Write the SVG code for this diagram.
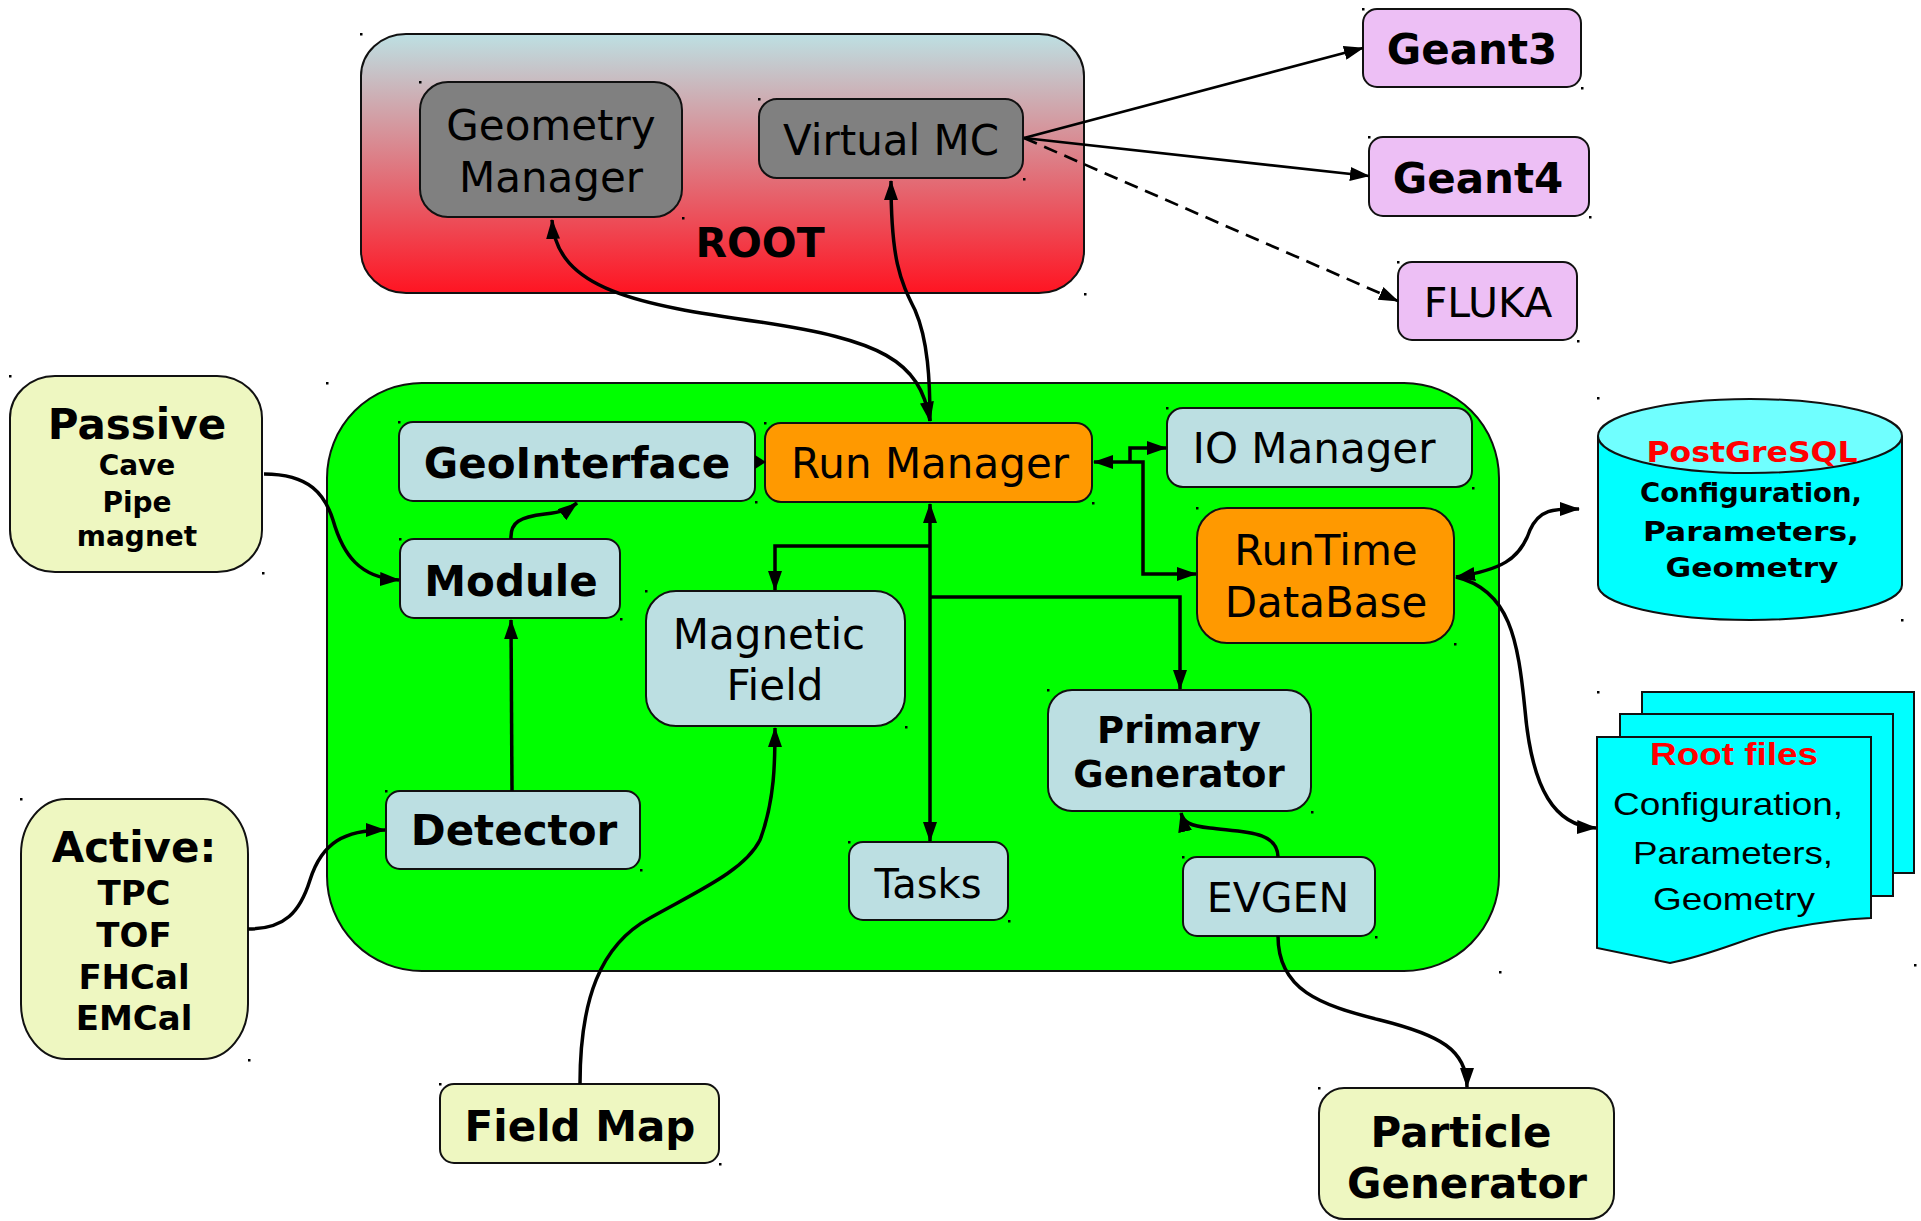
<svg xmlns="http://www.w3.org/2000/svg" width="1921" height="1221" viewBox="0 0 1921 1221">
<style>
  .box { stroke: #111; stroke-width: 2; }
  .blue { fill: #bcdfe2; }
  .gray { fill: #808080; }
  .orange { fill: #ff9900; }
  .pink { fill: #edbff5; }
  .yellow { fill: #eef7c1; }
  .cyan { fill: #00ffff; }
  .t { font-family: "DejaVu Sans", "Liberation Sans", sans-serif; fill: #000; text-anchor: middle; }
  .b { font-weight: bold; }
  .lib { font-family: "Liberation Sans", Arial, sans-serif; }
  .red { fill: #ff0000; }
  .con { fill: none; stroke: #000; stroke-width: 3.5; }
  .thin { fill: none; stroke: #000; stroke-width: 2.7; }
  .dash { stroke-dasharray: 14 8; }
  .dot { fill: #000; }
</style>
<defs>
  <linearGradient id="rootGrad" x1="0" y1="0" x2="0" y2="1">
    <stop offset="0" stop-color="#bde0e3"/>
    <stop offset="1" stop-color="#ff1422"/>
  </linearGradient>
  <marker id="ah" viewBox="0 0 20 14" refX="19" refY="7" markerWidth="20" markerHeight="14" markerUnits="userSpaceOnUse" orient="auto-start-reverse">
    <path d="M0,0 L20,7 L0,14 z" fill="#000"/>
  </marker>
</defs>

<!-- containers -->
<g id="root">
  <rect class="box" x="361" y="34" width="723" height="259" rx="45" ry="42" fill="url(#rootGrad)"/>
  <text class="t b" x="760" y="257" font-size="41">ROOT</text>
</g>
<g id="framework">
  <rect class="box" x="327" y="383" width="1172" height="588" rx="95" ry="95" fill="#00ff00"/>
</g>

<!-- ROOT children -->
<g id="geometry-manager">
  <rect class="box gray" x="420" y="82" width="262" height="135" rx="28"/>
  <text class="t" x="551" y="140" font-size="42">Geometry</text>
  <text class="t" x="551" y="192" font-size="42">Manager</text>
</g>
<g id="virtual-mc">
  <rect class="box gray" x="759" y="99" width="264" height="79" rx="18"/>
  <text class="t" x="891" y="155" font-size="42">Virtual MC</text>
</g>

<!-- transport engines -->
<g id="geant3">
  <rect class="box pink" x="1363" y="9" width="218" height="78" rx="14"/>
  <text class="t b" x="1472" y="64" font-size="42">Geant3</text>
</g>
<g id="geant4">
  <rect class="box pink" x="1369" y="137" width="220" height="79" rx="14"/>
  <text class="t b" x="1478" y="193" font-size="42">Geant4</text>
</g>
<g id="fluka">
  <rect class="box pink" x="1398" y="262" width="179" height="78" rx="14"/>
  <text class="t" x="1488" y="317" font-size="41">FLUKA</text>
</g>

<!-- external inputs -->
<g id="passive">
  <rect class="box yellow" x="10" y="376" width="252" height="196" rx="45" ry="42"/>
  <text class="t b" x="137" y="439" font-size="42">Passive</text>
  <text class="t b" x="137" y="475" font-size="28">Cave</text>
  <text class="t b" x="137" y="512" font-size="28">Pipe</text>
  <text class="t b" x="137" y="546" font-size="28">magnet</text>
</g>
<g id="active">
  <rect class="box yellow" x="21" y="799" width="227" height="260" rx="45" ry="55"/>
  <text class="t b" x="134" y="862" font-size="42">Active:</text>
  <text class="t b" x="134" y="905" font-size="34">TPC</text>
  <text class="t b" x="134" y="947" font-size="34">TOF</text>
  <text class="t b" x="134" y="989" font-size="34">FHCal</text>
  <text class="t b" x="134" y="1030" font-size="34">EMCal</text>
</g>
<g id="field-map">
  <rect class="box yellow" x="440" y="1084" width="279" height="79" rx="14"/>
  <text class="t b" x="580" y="1141" font-size="42">Field Map</text>
</g>
<g id="particle-generator">
  <rect class="box yellow" x="1319" y="1088" width="295" height="131" rx="25"/>
  <text class="t b" x="1461" y="1147" font-size="42">Particle</text>
  <text class="t b" x="1467" y="1198" font-size="42">Generator</text>
</g>

<!-- framework children -->
<g id="geointerface">
  <rect class="box blue" x="399" y="422" width="356" height="79" rx="14"/>
  <text class="t b" x="577" y="478" font-size="42">GeoInterface</text>
</g>
<g id="run-manager">
  <rect class="box orange" x="765" y="423" width="327" height="79" rx="16"/>
  <text class="t" x="930" y="478" font-size="42">Run Manager</text>
</g>
<g id="io-manager">
  <rect class="box blue" x="1167" y="408" width="305" height="79" rx="16"/>
  <text class="t" x="1314" y="463" font-size="42">IO Manager</text>
</g>
<g id="runtime-database">
  <rect class="box orange" x="1197" y="508" width="257" height="135" rx="30"/>
  <text class="t" x="1326" y="565" font-size="42">RunTime</text>
  <text class="t" x="1326" y="617" font-size="42">DataBase</text>
</g>
<g id="module">
  <rect class="box blue" x="400" y="539" width="220" height="79" rx="14"/>
  <text class="t b" x="511" y="596" font-size="42">Module</text>
</g>
<g id="magnetic-field">
  <rect class="box blue" x="646" y="591" width="259" height="135" rx="30"/>
  <text class="t" x="769" y="649" font-size="42">Magnetic</text>
  <text class="t" x="775" y="700" font-size="42">Field</text>
</g>
<g id="detector">
  <rect class="box blue" x="386" y="791" width="254" height="78" rx="14"/>
  <text class="t b" x="514" y="845" font-size="42">Detector</text>
</g>
<g id="tasks">
  <rect class="box blue" x="849" y="842" width="159" height="78" rx="14"/>
  <text class="t" x="928" y="898" font-size="40">Tasks</text>
</g>
<g id="primary-generator">
  <rect class="box blue" x="1048" y="690" width="263" height="121" rx="24"/>
  <text class="t b" x="1179" y="743" font-size="37">Primary</text>
  <text class="t b" x="1179" y="787" font-size="37">Generator</text>
</g>
<g id="evgen">
  <rect class="box blue" x="1183" y="857" width="192" height="79" rx="14"/>
  <text class="t" x="1278" y="912" font-size="41">EVGEN</text>
</g>

<!-- storage -->
<g id="postgresql">
  <path class="box cyan" d="M1598,436 L1598,585 A152,35 0 0 0 1902,585 L1902,436"/>
  <ellipse class="box" cx="1750" cy="436" rx="152" ry="37" fill="#70ffff"/>
  <text class="t b red" x="1752" y="462" font-size="28" textLength="211" lengthAdjust="spacingAndGlyphs">PostGreSQL</text>
  <text class="t b" x="1751" y="502" font-size="27" textLength="222" lengthAdjust="spacingAndGlyphs">Configuration,</text>
  <text class="t b" x="1751" y="541" font-size="27" textLength="216" lengthAdjust="spacingAndGlyphs">Parameters,</text>
  <text class="t b" x="1752" y="577" font-size="27" textLength="173" lengthAdjust="spacingAndGlyphs">Geometry</text>
</g>
<g id="root-files">
  <rect class="box cyan" x="1642" y="692" width="272" height="181"/>
  <rect class="box cyan" x="1620" y="714" width="273" height="182"/>
  <path class="box cyan" d="M1597,737 L1871,737 L1871,918 C1850,919 1820,922 1790,928 C1750,935 1720,953 1670,963 L1597,948 z"/>
  <text class="t lib b red" x="1734" y="765" font-size="32" textLength="168" lengthAdjust="spacingAndGlyphs">Root files</text>
  <text class="t lib" x="1728" y="815" font-size="32" textLength="230" lengthAdjust="spacingAndGlyphs">Configuration,</text>
  <text class="t lib" x="1733" y="864" font-size="32" textLength="200" lengthAdjust="spacingAndGlyphs">Parameters,</text>
  <text class="t lib" x="1734" y="910" font-size="32" textLength="162" lengthAdjust="spacingAndGlyphs">Geometry</text>
</g>

<!-- connectors -->
<g id="connectors">
  <path class="thin" d="M1024,138 L1363,48" marker-end="url(#ah)"/>
  <path class="thin" d="M1024,138 L1369,176" marker-end="url(#ah)"/>
  <path class="thin dash" d="M1024,138 L1398,301" marker-end="url(#ah)"/>

  <path class="con" d="M552,220 C556,290 640,305 760,322 C880,340 920,360 930,421" marker-start="url(#ah)" marker-end="url(#ah)"/>
  <path class="con" d="M891,181 C891,260 900,280 915,310 C928,340 930,380 930,421" marker-start="url(#ah)"/>

  <path d="M755,455 L766,462 L755,469 z" fill="#000"/>

  <path class="con" d="M511,539 C510,522 520,517 545,514 C562,512 568,510 577,503" marker-end="url(#ah)"/>
  <path class="con" d="M264,474 C310,474 325,495 333,520 C343,555 360,578 399,580" marker-end="url(#ah)"/>
  <path class="con" d="M512,791 L511,620" marker-end="url(#ah)"/>
  <path class="con" d="M248,929 C285,929 300,912 310,880 C322,842 345,830 385,830" marker-end="url(#ah)"/>
  <path class="con" d="M580,1084 C580,1000 600,945 650,918 C700,890 745,870 760,840 C775,800 775,760 775,728" marker-end="url(#ah)"/>

  <path class="con" d="M930,504 L930,841" marker-start="url(#ah)" marker-end="url(#ah)"/>
  <path class="con" d="M930,546 H775 V590" marker-end="url(#ah)"/>
  <path class="con" d="M930,597 H1180 V689" marker-end="url(#ah)"/>

  <path class="con" d="M1094,462 H1143 V574 H1196" marker-start="url(#ah)" marker-end="url(#ah)"/>
  <path class="con" d="M1130,462 V448 H1166" marker-end="url(#ah)"/>

  <path class="con" d="M1456,577 C1500,570 1520,560 1530,530 C1540,508 1555,509 1579,509" marker-start="url(#ah)" marker-end="url(#ah)"/>
  <path class="con" d="M1456,577 C1510,590 1518,640 1525,710 C1532,790 1555,826 1596,828" marker-end="url(#ah)"/>

  <path class="con" d="M1278,857 C1278,830 1240,832 1210,828 C1190,826 1183,822 1181,813" marker-end="url(#ah)"/>
  <path class="con" d="M1278,936 C1278,990 1320,1005 1380,1020 C1440,1035 1467,1050 1467,1087" marker-end="url(#ah)"/>
</g>

<!-- bounding-box corner marks -->
<g id="corner-marks" class="dot">
  <rect x="360" y="33" width="2.5" height="2.5"/><rect x="1084" y="293" width="2.5" height="2.5"/>
  <rect x="419" y="81" width="2.5" height="2.5"/><rect x="682" y="217" width="2.5" height="2.5"/>
  <rect x="758" y="98" width="2.5" height="2.5"/><rect x="1023" y="178" width="2.5" height="2.5"/>
  <rect x="1362" y="8" width="2.5" height="2.5"/><rect x="1581" y="87" width="2.5" height="2.5"/>
  <rect x="1368" y="136" width="2.5" height="2.5"/><rect x="1589" y="216" width="2.5" height="2.5"/>
  <rect x="1397" y="261" width="2.5" height="2.5"/><rect x="1577" y="340" width="2.5" height="2.5"/>
  <rect x="9" y="375" width="2.5" height="2.5"/><rect x="262" y="572" width="2.5" height="2.5"/>
  <rect x="326" y="382" width="2.5" height="2.5"/><rect x="1499" y="971" width="2.5" height="2.5"/>
  <rect x="398" y="421" width="2.5" height="2.5"/><rect x="755" y="501" width="2.5" height="2.5"/>
  <rect x="764" y="422" width="2.5" height="2.5"/><rect x="1092" y="502" width="2.5" height="2.5"/>
  <rect x="1166" y="407" width="2.5" height="2.5"/><rect x="1472" y="487" width="2.5" height="2.5"/>
  <rect x="1196" y="507" width="2.5" height="2.5"/><rect x="1454" y="643" width="2.5" height="2.5"/>
  <rect x="399" y="538" width="2.5" height="2.5"/><rect x="620" y="618" width="2.5" height="2.5"/>
  <rect x="645" y="590" width="2.5" height="2.5"/><rect x="905" y="726" width="2.5" height="2.5"/>
  <rect x="385" y="790" width="2.5" height="2.5"/><rect x="640" y="869" width="2.5" height="2.5"/>
  <rect x="848" y="841" width="2.5" height="2.5"/><rect x="1008" y="920" width="2.5" height="2.5"/>
  <rect x="1047" y="689" width="2.5" height="2.5"/><rect x="1311" y="811" width="2.5" height="2.5"/>
  <rect x="1182" y="856" width="2.5" height="2.5"/><rect x="1375" y="936" width="2.5" height="2.5"/>
  <rect x="20" y="798" width="2.5" height="2.5"/><rect x="248" y="1059" width="2.5" height="2.5"/>
  <rect x="439" y="1083" width="2.5" height="2.5"/><rect x="719" y="1163" width="2.5" height="2.5"/>
  <rect x="1318" y="1087" width="2.5" height="2.5"/>
  <rect x="1597" y="397" width="2.5" height="2.5"/><rect x="1901" y="619" width="2.5" height="2.5"/>
  <rect x="1597" y="691" width="2.5" height="2.5"/><rect x="1914" y="964" width="2.5" height="2.5"/>
</g>
</svg>
